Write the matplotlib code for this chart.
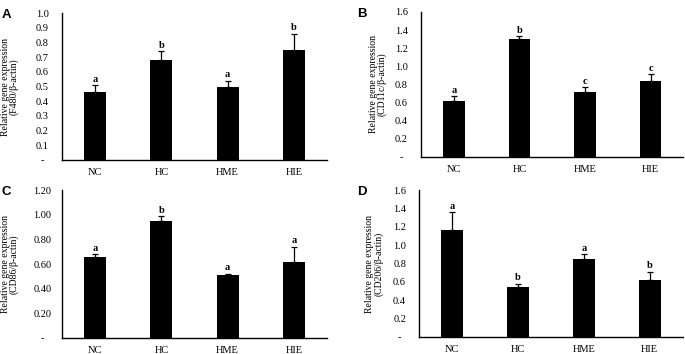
import matplotlib
matplotlib.use('Agg')
import matplotlib.pyplot as plt
import numpy as np

groups = ['NC', 'HC', 'HME', 'HIE']

# panel A: F480
a_vals = [0.46, 0.68, 0.50, 0.75]
a_err = [0.05, 0.06, 0.04, 0.11]
a_lett = ['a', 'b', 'a', 'b']
a_ticks = [0.1, 0.2, 0.3, 0.4, 0.5, 0.6, 0.7, 0.8, 0.9, 1.0]

# panel B: CD11c
b_vals = [0.62, 1.30, 0.72, 0.84]
b_err = [0.05, 0.03, 0.05, 0.07]
b_lett = ['a', 'b', 'c', 'c']
b_ticks = [0.2, 0.4, 0.6, 0.8, 1.0, 1.2, 1.4, 1.6]

# panel C: CD86
c_vals = [0.66, 0.95, 0.51, 0.62]
c_err = [0.02, 0.04, 0.01, 0.12]
c_lett = ['a', 'b', 'a', 'a']
c_ticks = [0.2, 0.4, 0.6, 0.8, 1.0, 1.2]

# panel D: CD206
d_vals = [1.17, 0.54, 0.85, 0.62]
d_err = [0.19, 0.04, 0.05, 0.09]
d_lett = ['a', 'b', 'a', 'b']
d_ticks = [0.2, 0.4, 0.6, 0.8, 1.0, 1.2, 1.4, 1.6]

serif = 'Liberation Serif'

fig = plt.figure(figsize=(6.85, 3.54), dpi=100)

# name, axes rect, values, errors, letters, ticks, ymax, tick format, gene, ylabel x
panels = [
    ('A', [0.0905, 0.548, 0.387, 0.415], a_vals, a_err, a_lett, a_ticks, 1.0, '{:.1f}', 'F480', -0.162),
    ('B', [0.6146, 0.5565, 0.383, 0.41], b_vals, b_err, b_lett, b_ticks, 1.6, '{:.1f}', 'CD11c', -0.13),
    ('C', [0.0905, 0.045, 0.387, 0.418], c_vals, c_err, c_lett, c_ticks, 1.2, '{:.2f}', 'CD86', -0.162),
    ('D', [0.6117, 0.048, 0.385, 0.415], d_vals, d_err, d_lett, d_ticks, 1.6, '{:.1f}', 'CD206', -0.136),
]

x = np.arange(len(groups))
for name, rect, vals, err, lett, ticks, ymax, fmt, gene, lx in panels:
    ax = fig.add_axes(rect)
    ax.bar(x, vals, width=0.33, color='black')
    ax.errorbar(x, vals, yerr=[np.zeros(len(vals)), err], fmt='none',
                ecolor='black', elinewidth=0.9, capsize=2, capthick=0.9)
    for xi, v, e, l in zip(x, vals, err, lett):
        ax.text(xi, v + e + ymax * 0.01, l, ha='center', va='bottom',
                family=serif, fontsize=7.5, fontweight='bold')
    ax.set_xlim(-0.5, 3.5)
    ax.set_ylim(0, ymax)
    ax.set_yticks([0] + ticks)
    ax.set_yticklabels(['-'] + [fmt.format(t) for t in ticks], family=serif, fontsize=7.5)
    ax.set_xticks(x)
    ax.set_xticklabels(groups, family=serif, fontsize=7.5)
    ax.tick_params(axis='both', length=0)
    ax.tick_params(axis='y', pad=14)
    for lab in ax.get_yticklabels():
        lab.set_horizontalalignment('center')
    ax.tick_params(axis='x', pad=6)
    ax.spines['top'].set_visible(False)
    ax.spines['right'].set_visible(False)
    ax.spines['left'].set_linewidth(1.0)
    ax.spines['bottom'].set_linewidth(1.0)
    ax.set_ylabel('Relative gene expression\n(' + gene + '/β-actin)', family=serif,
                  fontsize=7, linespacing=0.9)
    ax.yaxis.set_label_coords(lx, 0.5)
    fx = 0.002 if name in ('A', 'C') else 0.521
    fy = rect[1] + rect[3] - 0.005
    fig.text(fx, fy, name, family='Liberation Sans', fontweight='bold', fontsize=9.5,
             ha='left', va='center')

fig.savefig('out.png', dpi=100)
